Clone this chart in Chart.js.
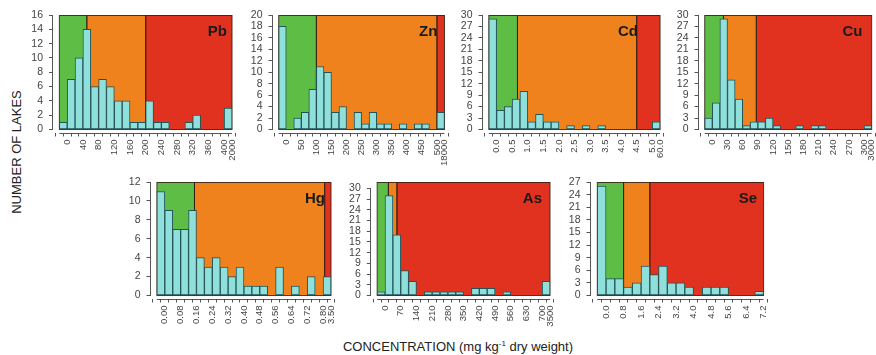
<!DOCTYPE html>
<html>
<head>
<meta charset="utf-8">
<script src="https://cdn.jsdelivr.net/npm/chart.js@4.4.0/dist/chart.umd.min.js"></script>
<style>
body { margin: 0; background: #fff; width: 876px; height: 355px; overflow: hidden; position: relative; font-family: "Liberation Sans", Arial, sans-serif; }
canvas { position: absolute; }
.ytitle { position: absolute; left: 16px; top: 152px; transform: translate(-50%, -50%) rotate(-90deg); white-space: nowrap; font-size: 13px; color: #222; }
.xtitle { position: absolute; left: 458px; top: 346px; transform: translate(-50%, -50%); white-space: nowrap; font-size: 13px; color: #222; }
.xtitle span { font-size: 8px; position: relative; top: -5px; }
</style>
</head>
<body>
<div class="ytitle">NUMBER OF LAKES</div>
<div class="xtitle">CONCENTRATION (mg kg<span>-1</span> dry weight)</div>
<script>
// counts per bin (last bin of most panels is the open-ended one)
var pbCounts = [1, 7, 10, 14, 6, 7, 6, 4, 4, 1, 1, 4, 1, 1, 0, 0, 1, 2, 0, 0, 0, 3];
var znCounts = [18, 0, 2, 3, 7, 11, 10, 3, 4, 0, 3, 1, 3, 1, 1, 0, 1, 0, 1, 1, 0, 3];
var cdCounts = [29, 5, 6, 8, 10, 2, 4, 2, 2, 0, 1, 0, 1, 0, 1, 0, 0, 0, 0, 0, 0, 2];
var cuCounts = [3, 7, 29, 13, 8, 1, 2, 2, 3, 1, 0, 0, 1, 0, 1, 1, 0, 0, 0, 0, 0, 1];
var hgCounts = [11, 9, 7, 7, 9, 4, 3, 4, 3, 2, 3, 1, 1, 1, 0, 3, 0, 1, 0, 2, 0, 2];
var asCounts = [1, 28, 17, 7, 4, 0, 1, 1, 1, 1, 1, 0, 2, 2, 2, 0, 1, 0, 0, 0, 0, 4];
var seCounts = [26, 4, 4, 2, 3, 7, 5, 7, 3, 3, 2, 0, 2, 2, 2, 0, 0, 0, 1];

// bin edges: [first edge, bin width, last edge]
var pbEdges = [-20, 20, 2000];
var znEdges = [-25, 25, 18000];
var cdEdges = [-0.25, 0.25, 60];
var cuEdges = [-15, 15, 3000];
var hgEdges = [-0.04, 0.04, 3.5];
var asEdges = [-35, 35, 3500];
var seEdges = [-0.4, 0.4, 7.2];

// x tick labels at each bin edge
var pbTicks = ['', '0', '', '40', '', '80', '', '120', '', '160', '', '200', '', '240', '', '280', '', '320', '', '360', '', '400', '2000'];
var znTicks = ['', '0', '', '50', '', '100', '', '150', '', '200', '', '250', '', '300', '', '350', '', '400', '', '450', '', '500', '18000'];
var cdTicks = ['', '0.0', '', '0.5', '', '1.0', '', '1.5', '', '2.0', '', '2.5', '', '3.0', '', '3.5', '', '4.0', '', '4.5', '', '5.0', '60.0'];
var cuTicks = ['', '0', '', '30', '', '60', '', '90', '', '120', '', '150', '', '180', '', '210', '', '240', '', '270', '', '300', '3000'];
var hgTicks = ['', '0.00', '', '0.08', '', '0.16', '', '0.24', '', '0.32', '', '0.40', '', '0.48', '', '0.56', '', '0.64', '', '0.72', '', '0.80', '3.50'];
var asTicks = ['', '0', '', '70', '', '140', '', '210', '', '280', '', '350', '', '420', '', '490', '', '560', '', '630', '', '700', '3500'];
var seTicks = ['', '0.0', '', '0.8', '', '1.6', '', '2.4', '', '3.2', '', '4.0', '', '4.8', '', '5.6', '', '6.4', '', '7.2'];

// y ticks
var yTicks12 = [0, 2, 4, 6, 8, 10, 12];
var yTicks16 = [0, 2, 4, 6, 8, 10, 12, 14, 16];
var yTicks20 = [0, 2, 4, 6, 8, 10, 12, 14, 16, 18, 20];
var yTicks27 = [0, 3, 6, 9, 12, 15, 18, 21, 24, 27];
var yTicks30 = [0, 3, 6, 9, 12, 15, 18, 21, 24, 27, 30];

// green below first limit, orange between, red above second
var pbLimits = [50, 200];
var znLimits = [100, 500];
var cdLimits = [0.67, 4.5];
var cuLimits = [22, 87];
var hgLimits = [0.15, 1.34];
var asLimits = [15, 53];
var seLimits = [0.8, 2.0];

var GREEN = '#5dbd45', ORANGE = '#f0821e', RED = '#e0321f';
var BAR = '#8fdfdb', BAR_EDGE = '#24545a';
var FONT = '"Liberation Sans", Arial, sans-serif';
Chart.defaults.font.family = FONT;

// box = [plot left, plot right, top, zero line], label = [from right, from top]
var panels = [
  { name: 'Pb', counts: pbCounts, edges: pbEdges, ticks: pbTicks, yTicks: yTicks16, yMax: 16, limits: pbLimits, box: [55.5, 236, 15, 129.5], label: [9, 20.5] },
  { name: 'Zn', counts: znCounts, edges: znEdges, ticks: znTicks, yTicks: yTicks20, yMax: 20, limits: znLimits, box: [275, 448.3, 15, 129.5], label: [11, 20.5] },
  { name: 'Cd', counts: cdCounts, edges: cdEdges, ticks: cdTicks, yTicks: yTicks30, yMax: 30, limits: cdLimits, box: [485, 664, 15, 129.5], label: [26, 20.5] },
  { name: 'Cu', counts: cuCounts, edges: cuEdges, ticks: cuTicks, yTicks: yTicks30, yMax: 30, limits: cuLimits, box: [701, 875.5, 15, 129.5], label: [13, 20.5] },
  { name: 'Hg', counts: hgCounts, edges: hgEdges, ticks: hgTicks, yTicks: yTicks12, yMax: 12, limits: hgLimits, box: [153, 335, 182, 295.5], label: [10, 21] },
  { name: 'As', counts: asCounts, edges: asEdges, ticks: asTicks, yTicks: yTicks30, yMax: 31.8, limits: asLimits, box: [373.3, 554, 182, 295.5], label: [12, 21] },
  { name: 'Se', counts: seCounts, edges: seEdges, ticks: seTicks, yTicks: yTicks27, yMax: 27, limits: seLimits, box: [593, 768, 182, 295.5], label: [11, 21] }
];

// concentration -> position in bin units (open last bin stretched to one bin)
function toBin(v, p) {
  var n = p.counts.length;
  var lastReg = p.edges[0] + (n - 1) * p.edges[1];
  if (v <= lastReg) return (v - p.edges[0]) / p.edges[1];
  return (n - 1) + (v - lastReg) / (p.edges[2] - lastReg);
}

function makePanel(p) {
  var n = p.counts.length;
  var plotL = p.box[0], areaL = plotL - 2.5, areaR = p.box[1];
  var areaT = p.box[2], zero = p.box[3], areaB = zero + 3;
  var cl = Math.floor(areaL - 36), ct = Math.floor(areaT - 8);
  var cw = Math.ceil(areaR + 10) - cl, ch = Math.ceil(areaB + 46) - ct;
  var yw = areaL - cl, xh = ct + ch - areaB;

  var canvas = document.createElement('canvas');
  canvas.width = cw; canvas.height = ch;
  canvas.style.left = cl + 'px'; canvas.style.top = ct + 'px';
  canvas.style.width = cw + 'px'; canvas.style.height = ch + 'px';
  document.body.appendChild(canvas);

  var xMin = -2.5 * n / (areaR - plotL);
  var yMin = -3 * p.yMax / (zero - areaT);
  var edgeVals = [];
  for (var k = 0; k <= n; k++) edgeVals.push(k);

  var g = toBin(p.limits[0], p), o = toBin(p.limits[1], p);
  var zones = [[0, g, GREEN], [g, o, ORANGE], [o, n, RED]];

  var panelPlugin = {
    id: 'panel' + p.name,
    beforeDatasetsDraw: function (chart) {
      var ctx = chart.ctx, x = chart.scales.x, y = chart.scales.y;
      var y0 = y.getPixelForValue(0), y1 = y.getPixelForValue(p.yMax);
      ctx.save();
      zones.forEach(function (z) {
        var xa = x.getPixelForValue(z[0]), xb = x.getPixelForValue(z[1]);
        ctx.fillStyle = z[2];
        ctx.fillRect(xa, y1, xb - xa, y0 - y1);
      });
      ctx.strokeStyle = 'rgba(50,30,20,0.85)';
      ctx.lineWidth = 1;
      zones.forEach(function (z) {
        var xa = x.getPixelForValue(z[0]), xb = x.getPixelForValue(z[1]);
        ctx.strokeRect(xa, y1 + 0.5, xb - xa, y0 - y1 - 0.5);
      });
      ctx.restore();
    },
    afterDraw: function (chart) {
      var ctx = chart.ctx, x = chart.scales.x, y = chart.scales.y, a = chart.chartArea;
      ctx.save();
      ctx.strokeStyle = '#555';
      ctx.lineWidth = 1;
      ctx.beginPath();
      var lx = Math.round(a.left) - 0.5;
      ctx.moveTo(lx, y.getPixelForValue(p.yTicks[0]));
      ctx.lineTo(lx, y.getPixelForValue(p.yTicks[p.yTicks.length - 1]));
      var by = Math.round(a.bottom) + 0.5;
      ctx.moveTo(x.getPixelForValue(0), by);
      ctx.lineTo(x.getPixelForValue(n), by);
      ctx.stroke();
      ctx.fillStyle = '#1a1a1a';
      ctx.font = 'bold 15px ' + FONT;
      ctx.textAlign = 'right';
      ctx.textBaseline = 'alphabetic';
      ctx.fillText(p.name, a.right - p.label[0], a.top + p.label[1]);
      ctx.restore();
    }
  };

  new Chart(canvas, {
    type: 'bar',
    data: {
      datasets: [{
        data: p.counts.map(function (v, i) { return { x: i + 0.5, y: v > 0 ? v : null }; }),
        backgroundColor: BAR,
        borderColor: BAR_EDGE,
        borderWidth: 1,
        borderSkipped: false,
        barPercentage: 1,
        categoryPercentage: 1
      }]
    },
    options: {
      responsive: false,
      animation: false,
      events: [],
      layout: { padding: { left: 0, top: areaT - ct, right: cl + cw - areaR, bottom: 0 } },
      plugins: { legend: { display: false }, tooltip: { enabled: false } },
      scales: {
        x: {
          type: 'linear',
          min: xMin,
          max: n,
          afterBuildTicks: function (s) { s.ticks = edgeVals.map(function (v) { return { value: v }; }); },
          afterFit: function (s) { s.height = xh; s.paddingLeft = 0; s.paddingRight = 0; },
          grid: { display: true, drawOnChartArea: false, drawTicks: true, tickLength: 4, color: '#555' },
          border: { display: false },
          ticks: {
            autoSkip: false, minRotation: 90, maxRotation: 90, padding: 3, color: '#444',
            font: { size: 9.5 },
            callback: function (v) { return p.ticks[v] || ''; }
          }
        },
        y: {
          min: yMin,
          max: p.yMax,
          afterBuildTicks: function (s) { s.ticks = p.yTicks.map(function (v) { return { value: v }; }); },
          afterFit: function (s) { s.width = yw; s.paddingTop = 0; s.paddingBottom = 0; },
          grid: { display: true, drawOnChartArea: false, drawTicks: true, tickLength: 4, color: '#555' },
          border: { display: false },
          ticks: { autoSkip: false, padding: 6, color: '#444', font: { size: 10.5 } }
        }
      }
    },
    plugins: [panelPlugin]
  });
}

panels.forEach(makePanel);
</script>
</body>
</html>
